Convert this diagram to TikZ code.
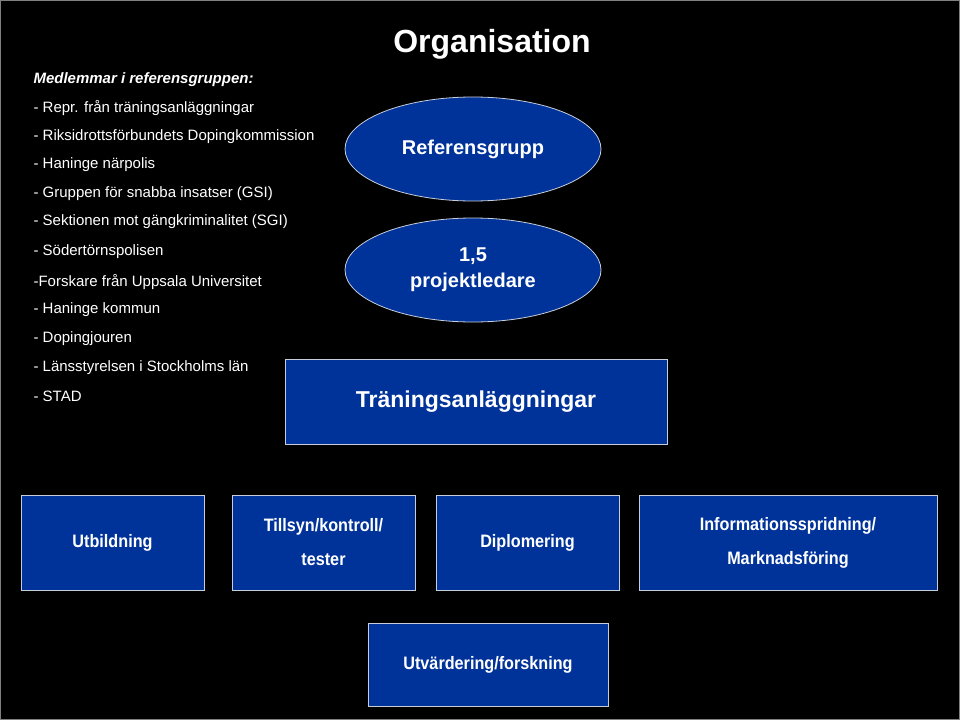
\documentclass[tikz,border=0pt]{standalone}
\usepackage{fontspec}
\setmainfont{Liberation Sans}
\usetikzlibrary{shapes.geometric}
\definecolor{bx}{RGB}{0,51,153}
\definecolor{bd}{RGB}{200,205,220}
\begin{document}
\begin{tikzpicture}[x=1pt,y=-1pt,
  lst/.style={anchor=west,text=white,font=\fontsize{15}{18}\selectfont},
  ell/.style={ellipse,fill=bx,draw=bd,line width=0.8pt,text=white,align=center,font=\bfseries\fontsize{20}{24}\selectfont},
  bbox/.style={fill=bx,draw=bd,line width=0.8pt,text=white,align=center,font=\bfseries\fontsize{18}{34}\selectfont}]
\fill[black] (0,0) rectangle (960,720);
\draw[gray,line width=0.6pt] (0.5,0.5) rectangle (959.5,719.5);
\node[text=white,font=\bfseries\fontsize{32}{36}\selectfont] (title) at (492,44) {Organisation};
\node[lst,font=\bfseries\itshape\fontsize{15}{18}\selectfont] (l0) at (30,80) {Medlemmar i referensgruppen:};
\node[lst] (l1) at (30,108) {- Repr. från träningsanläggningar};
\node[lst] (l2) at (30,137) {- Riksidrottsförbundets Dopingkommission};
\node[lst] (l3) at (30,165) {- Haninge närpolis};
\node[lst] (l4) at (30,194) {- Gruppen för snabba insatser (GSI)};
\node[lst] (l5) at (30,222) {- Sektionen mot gängkriminalitet (SGI)};
\node[lst] (l6) at (30,252) {- Södertörnspolisen};
\node[lst] (l7) at (30,282) {-Forskare från Uppsala Universitet};
\node[lst] (l8) at (30,310) {- Haninge kommun};
\node[lst] (l9) at (30,339) {- Dopingjouren};
\node[lst] (l10) at (30,368) {- Länsstyrelsen i Stockholms län};
\node[lst] (l11) at (30,396) {- STAD};
\node[ell,minimum width=256pt,minimum height=104pt] (ref) at (473,149) {Referensgrupp};
\node[ell,minimum width=256pt,minimum height=104pt,font=\bfseries\fontsize{20}{26}\selectfont] (pl) at (473,270) {1,5\\projektledare};
\node[bbox,minimum width=382pt,minimum height=85pt,font=\bfseries\fontsize{23}{26}\selectfont] (tr) at (476,402) {Träningsanläggningar};
\node[bbox,minimum width=183pt,minimum height=95pt] (b1) at (112.5,542.5) {\scalebox{0.9}[1]{Utbildning}};
\node[bbox,minimum width=183pt,minimum height=95pt] (b2) at (323.5,542.5) {\scalebox{0.9}[1]{Tillsyn/kontroll/}\\\scalebox{0.9}[1]{tester}};
\node[bbox,minimum width=183pt,minimum height=95pt] (b3) at (527.5,542.5) {\scalebox{0.9}[1]{Diplomering}};
\node[bbox,minimum width=298pt,minimum height=95pt] (b4) at (788,542.5) {\scalebox{0.9}[1]{Informationsspridning/}\\\scalebox{0.9}[1]{Marknadsföring}};
\node[bbox,minimum width=240pt,minimum height=83pt] (b5) at (488,664.5) {\scalebox{0.9}[1]{Utvärdering/forskning}};
\end{tikzpicture}
\end{document}
